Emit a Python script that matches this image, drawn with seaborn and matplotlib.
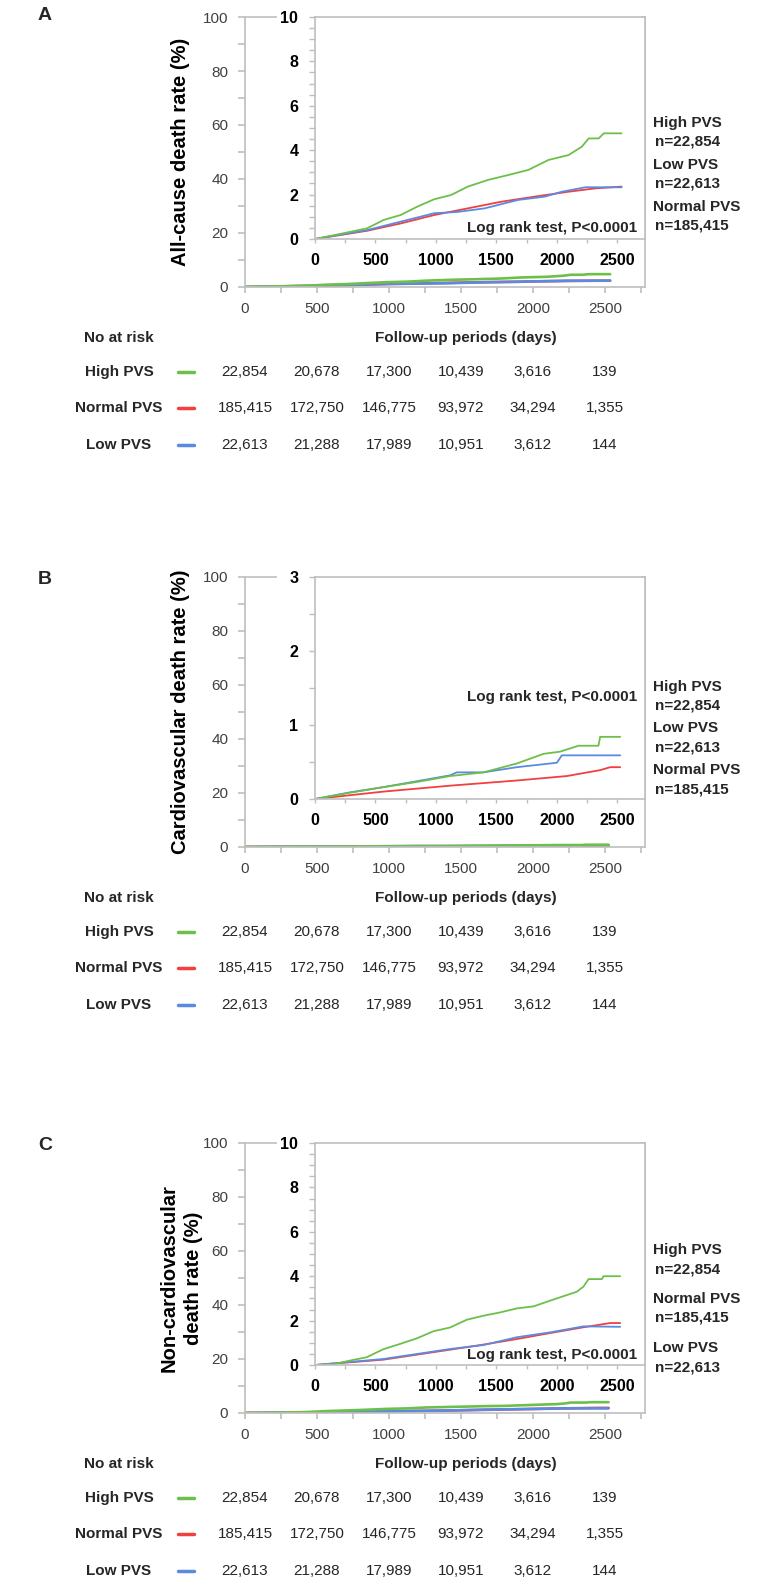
import numpy as np
import pandas as pd
import matplotlib
matplotlib.use("Agg")
import matplotlib.pyplot as plt
import seaborn as sns
from matplotlib.patches import Rectangle
from matplotlib.lines import Line2D
from matplotlib.ticker import MultipleLocator
from matplotlib.transforms import blended_transform_factory

# ---- values ----
groups = ["High PVS", "Normal PVS", "Low PVS"]
group_n = {"High PVS": "n=22,854", "Normal PVS": "n=185,415", "Low PVS": "n=22,613"}
colors = {"High PVS": "#6cc04a", "Normal PVS": "#f04040", "Low PVS": "#5b8ae0"}

risk_days = [0, 500, 1000, 1500, 2000, 2500]
risk_high = [22854, 20678, 17300, 10439, 3616, 139]
risk_normal = [185415, 172750, 146775, 93972, 34294, 1355]
risk_low = [22613, 21288, 17989, 10951, 3612, 144]

# A: all-cause death (%)
a_high_t = [0, 236, 431, 569, 708, 847, 986, 1125, 1264, 1431, 1597, 1764, 1931, 2097, 2208, 2264, 2347, 2389, 2536]
a_high_v = [0, 0.26, 0.48, 0.86, 1.08, 1.46, 1.79, 1.98, 2.36, 2.66, 2.88, 3.11, 3.56, 3.78, 4.16, 4.53, 4.53, 4.76, 4.76]
a_norm_t = [0, 431, 708, 986, 1264, 1542, 1819, 2097, 2319, 2536]
a_norm_v = [0, 0.37, 0.7, 1.08, 1.38, 1.68, 1.91, 2.13, 2.28, 2.36]
a_low_t = [0, 431, 708, 986, 1180, 1403, 1681, 1903, 2042, 2236, 2536]
a_low_v = [0, 0.4, 0.78, 1.16, 1.22, 1.38, 1.76, 1.91, 2.13, 2.33, 2.33]

# B: cardiovascular death (%)
b_high_t = [0, 290, 565, 842, 1118, 1394, 1670, 1890, 2028, 2180, 2345, 2359, 2525]
b_high_v = [0, 0.085, 0.16, 0.23, 0.31, 0.36, 0.48, 0.61, 0.64, 0.72, 0.72, 0.84, 0.84]
b_norm_t = [0, 565, 1118, 1670, 2083, 2359, 2442, 2525]
b_norm_v = [0, 0.10, 0.18, 0.25, 0.31, 0.39, 0.43, 0.43]
b_low_t = [0, 290, 565, 842, 1118, 1173, 1394, 1670, 2001, 2042, 2525]
b_low_v = [0, 0.09, 0.16, 0.24, 0.32, 0.36, 0.36, 0.43, 0.49, 0.59, 0.59]

# C: non-cardiovascular death (%)
c_high_t = [0, 150, 290, 428, 565, 704, 842, 980, 1118, 1256, 1394, 1532, 1670, 1808, 1946, 2083, 2166, 2221, 2263, 2373, 2387, 2525]
c_high_v = [0, 0.03, 0.2, 0.35, 0.71, 0.95, 1.2, 1.52, 1.69, 2.04, 2.22, 2.37, 2.55, 2.64, 2.9, 3.15, 3.3, 3.53, 3.87, 3.87, 4.0, 4.0]
c_norm_t = [0, 565, 1118, 1394, 1670, 1946, 2221, 2442, 2525]
c_norm_v = [0, 0.24, 0.69, 0.92, 1.17, 1.44, 1.7, 1.89, 1.89]
c_low_t = [0, 565, 1118, 1394, 1670, 1946, 2221, 2525]
c_low_v = [0, 0.27, 0.72, 0.9, 1.25, 1.47, 1.74, 1.72]

panels = [
    dict(letter="A", off=0, letter_y=16, ylabel="All-cause death rate (%)", inset_max=10, inset_step=2,
         logrank_y=228, data=[(a_high_t, a_high_v), (a_norm_t, a_norm_v), (a_low_t, a_low_v)],
         right=[("High PVS", 123), ("Low PVS", 165), ("Normal PVS", 207)]),
    dict(letter="B", off=560, letter_y=580, ylabel="Cardiovascular death rate (%)", inset_max=3, inset_step=1,
         logrank_y=697, data=[(b_high_t, b_high_v), (b_norm_t, b_norm_v), (b_low_t, b_low_v)],
         right=[("High PVS", 687), ("Low PVS", 728), ("Normal PVS", 770)]),
    dict(letter="C", off=1126, letter_y=1146, ylabel="Non-cardiovascular\ndeath rate (%)", inset_max=10, inset_step=2,
         logrank_y=1355, data=[(c_high_t, c_high_v), (c_norm_t, c_norm_v), (c_low_t, c_low_v)],
         right=[("High PVS", 1250), ("Normal PVS", 1299), ("Low PVS", 1348)]),
]

sns.set_theme(style="ticks")
plt.rcParams['font.family'] = ['Liberation Sans', 'DejaVu Sans']

W, H = 782, 1583
fig = plt.figure(figsize=(W / 100, H / 100), dpi=100)
fig.patch.set_facecolor("white")


def box(l, t, r, b):
    return [l / W, 1 - b / H, (r - l) / W, (b - t) / H]


def fy(y):
    return 1 - y / H


grey = "#bfbfbf"
hue_order = ["Normal PVS", "Low PVS", "High PVS"]

for p in panels:
    o = p["off"]
    frames = []
    for g, (t, v) in zip(groups, p["data"]):
        frames.append(pd.DataFrame({"day": t, "rate": v, "group": g}))
    df = pd.concat(frames, ignore_index=True)

    # main axes 0-100 %
    ax = fig.add_axes(box(245, 17 + o, 645, 287 + o))
    sns.lineplot(data=df, x="day", y="rate", hue="group", hue_order=hue_order, palette=colors,
                 estimator=None, sort=False, legend=False, linewidth=1.9, ax=ax)
    ax.set_xlim(0, 2778)
    ax.set_ylim(0, 100)
    ax.xaxis.set_major_locator(MultipleLocator(500))
    ax.xaxis.set_minor_locator(MultipleLocator(250))
    ax.yaxis.set_major_locator(MultipleLocator(20))
    ax.yaxis.set_minor_locator(MultipleLocator(10))
    ax.tick_params(axis="both", which="both", direction="out", color=grey, width=1.2,
                   labelsize=11, labelcolor="#404040")
    ax.tick_params(axis="x", which="both", length=4, pad=7)
    ax.tick_params(axis="y", which="both", length=5, pad=7)
    for s in ax.spines.values():
        s.set_color(grey)
        s.set_linewidth(1.2)
    ax.set_xlabel("")
    ax.set_ylabel(p["ylabel"], fontsize=14.5, fontweight="bold", color="black", va="center",
                  linespacing=1.35)
    ax.yaxis.set_label_coords((181 - 245) / 400, 0.5)

    # inset zoom, with a white patch hiding the main axes under its tick labels
    ins = fig.add_axes(box(315, 17 + o, 645, 239 + o))
    ins.add_patch(Rectangle((277 / W, fy(268 + o)), (641 - 277) / W, (268 - 15) / H,
                            transform=fig.transFigure, facecolor="white", edgecolor="none",
                            zorder=-1, clip_on=False))
    sns.lineplot(data=df, x="day", y="rate", hue="group", hue_order=hue_order, palette=colors,
                 estimator=None, sort=False, legend=False, linewidth=1.3, ax=ins)
    ins.set_xlim(0, 2730)
    ins.set_ylim(0, p["inset_max"])
    ins.xaxis.set_major_locator(MultipleLocator(500))
    ins.xaxis.set_minor_locator(MultipleLocator(250))
    ins.yaxis.set_major_locator(MultipleLocator(p["inset_step"]))
    ins.yaxis.set_minor_locator(MultipleLocator(0.5))
    ins.tick_params(axis="both", which="both", direction="out", color=grey, width=1,
                    labelsize=11.5, labelcolor="black")
    ins.tick_params(axis="x", which="both", length=3, pad=7)
    ins.tick_params(axis="y", which="both", length=4, pad=8)
    for lab in ins.get_xticklabels() + ins.get_yticklabels():
        lab.set_fontweight("bold")
    for s in ins.spines.values():
        s.set_color(grey)
        s.set_linewidth(1.2)
    ins.set_xlabel("")
    ins.set_ylabel("")

    fig.text(637 / W, fy(p["logrank_y"]), "Log rank test, P<0.0001", fontsize=11,
             fontweight="bold", ha="right", va="center")

    # panel letter
    fig.text(45 / W, fy(p["letter_y"]), p["letter"], fontsize=14, fontweight="bold",
             ha="center", va="center")

    # group labels on the right
    for g, y in p["right"]:
        fig.text(653 / W, fy(y), g, fontsize=11, fontweight="bold", ha="left", va="center")
        fig.text(655 / W, fy(y + 19), group_n[g], fontsize=11, fontweight="bold",
                 ha="left", va="center")

    # number at risk table
    fig.text(119 / W, fy(338 + o), "No at risk", fontsize=11, fontweight="bold",
             ha="center", va="center")
    fig.text(466 / W, fy(338 + o), "Follow-up periods (days)", fontsize=11,
             fontweight="bold", ha="center", va="center")
    trans = blended_transform_factory(ax.transData, fig.transFigure)
    for g, counts, y in zip(groups, [risk_high, risk_normal, risk_low], [372, 408, 445]):
        yy = fy(y + o)
        fig.text(119 / W, yy, g, fontsize=11, fontweight="bold", ha="center", va="center")
        fig.add_artist(Line2D([178 / W, 194 / W], [yy, yy], color=colors[g], lw=2.5,
                              transform=fig.transFigure))
        for d, c in zip(risk_days, counts):
            ax.text(d, yy, f"{c:,}", transform=trans, fontsize=11, color="#262626",
                    ha="center", va="center", clip_on=False)

fig.savefig("out.png", dpi=100, facecolor="white")
